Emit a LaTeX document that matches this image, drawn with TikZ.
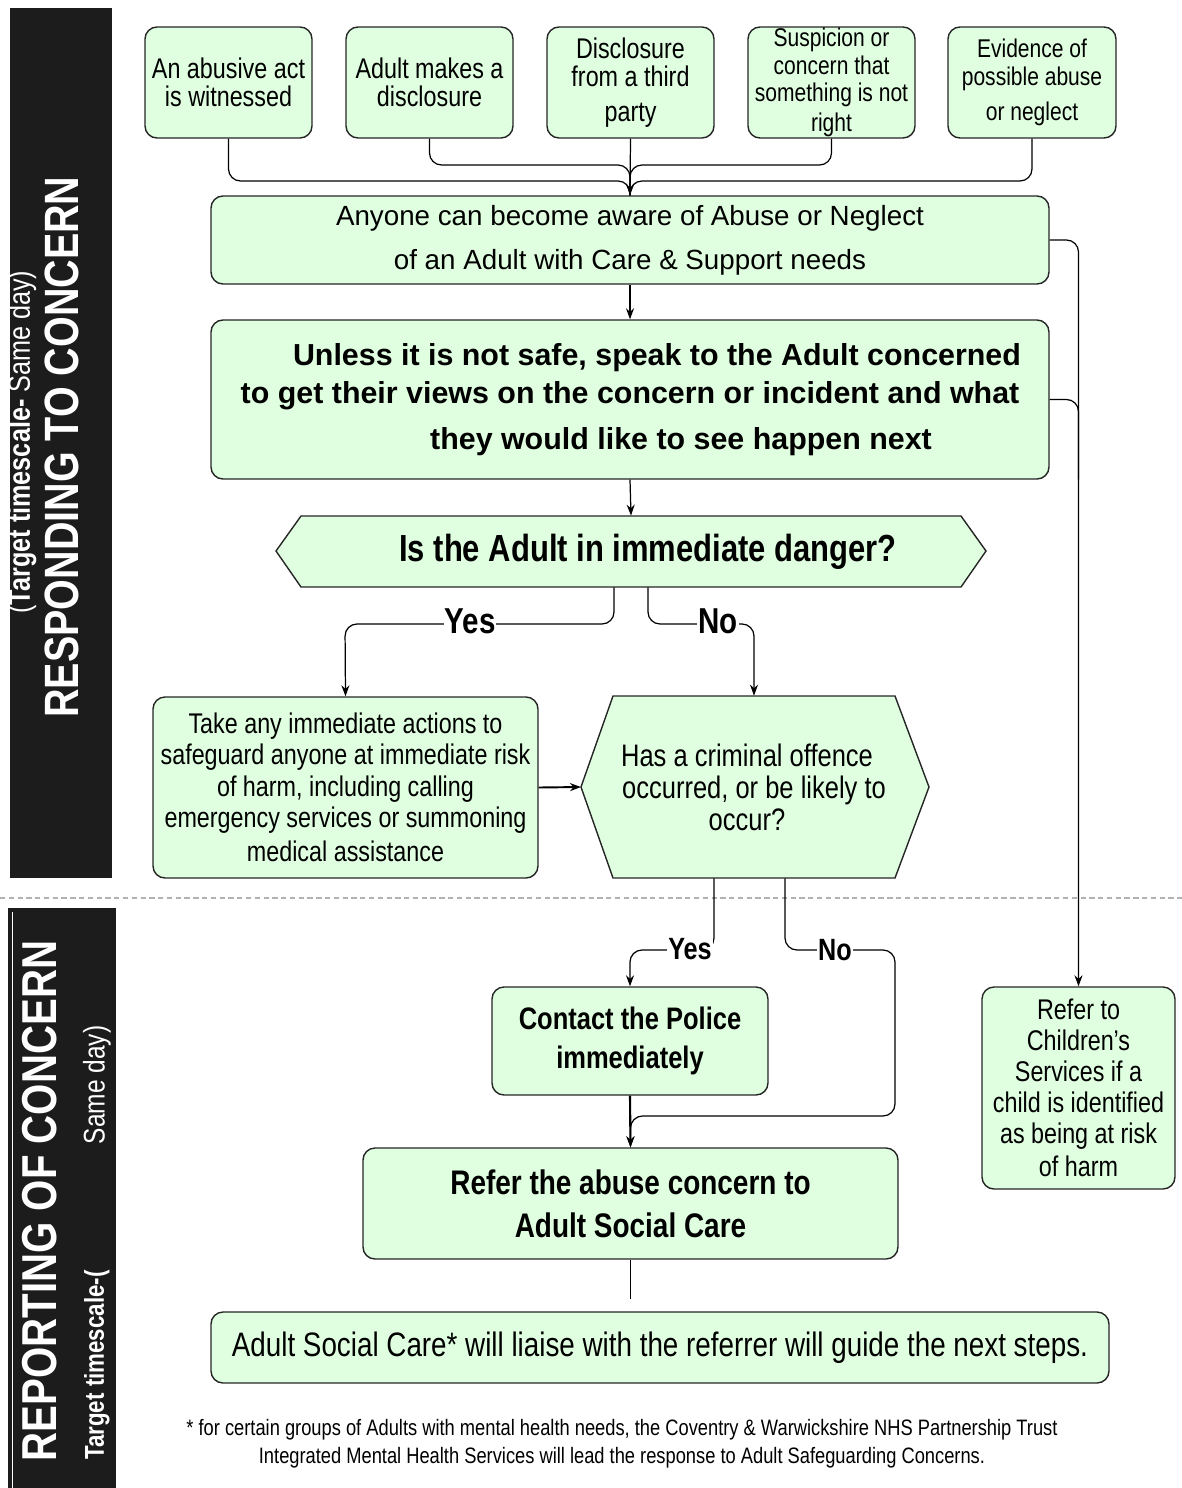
\documentclass[tikz,border=0pt]{standalone}
\usepackage{fontspec}
\setmainfont{Liberation Sans}
\newfontfamily\nrw{Liberation Sans}[FakeStretch=0.82]
\usetikzlibrary{arrows.meta}
\definecolor{boxgreen}{RGB}{224,255,224}
\definecolor{bardark}{RGB}{28,28,28}

\begin{document}
\begin{tikzpicture}[x=0.02cm,y=-0.02cm,
  dims/.style 2 args={minimum width=#1*0.02cm,minimum height=#2*0.02cm},
  green_box/.style={draw=black!85,line width=0.8pt,rounded corners=0.24cm,fill=boxgreen,align=center,inner sep=0pt},
  src_box/.style={green_box,dims={167}{111},font=\nrw\fontsize{16.2}{15.8}\selectfont},
  src_small/.style={src_box,font=\nrw\fontsize{14.6}{15.6}\selectfont},
  hex_shape/.style={draw=black!85,line width=0.8pt,fill=boxgreen},
  flow_line/.style={line width=0.7pt,rounded corners=0.24cm},
  flow_arrow/.style={flow_line,-{Stealth[length=2.2mm,width=1.6mm]}},
  yn_label/.style={fill=white,inner sep=0.5pt,font=\nrw\bfseries\fontsize{20.5}{21}\selectfont},
  yn_small/.style={yn_label,font=\nrw\bfseries\fontsize{17.5}{18}\selectfont},
  side_text/.style={rotate=90,text=white}]

\useasboundingbox (0,0) rectangle (1182,1488);

% side bars
\fill[bardark] (10,8) rectangle (112,878);
\fill[bardark] (8,908) rectangle (116,1488);
\draw[white,line width=0.8pt] (12.5,912) -- (12.5,1488);
\node[side_text,font=\nrw\bfseries\fontsize{27.4}{28}\selectfont] (resp) at (62,447) {RESPONDING TO CONCERN};
\node[side_text,font=\nrw\fontsize{17.5}{18}\selectfont] (resp_time) at (22,442) {(\textbf{Target timescale-} Same day)};
\node[side_text,font=\nrw\bfseries\fontsize{27.9}{28}\selectfont] (rep) at (40,1201) {REPORTING OF CONCERN};
\node[side_text,font=\nrw\bfseries\fontsize{15.5}{16}\selectfont] (rep_time) at (97,1365) {Target timescale-(};
\node[side_text,font=\nrw\fontsize{17}{18}\selectfont] (rep_day) at (97,1085) {Same day)};
\draw[gray!60,dash pattern=on 3pt off 2pt,line width=0.6pt] (0,898) -- (1182,898);

% ways of becoming aware
\node[src_box] (src1) at (228.5,82.5) {An abusive act\\is witnessed};
\node[src_box] (src2) at (429.5,82.5) {Adult makes a\\disclosure};
\node[src_box] (src3) at (630.5,82.5) {Disclosure\\from a third\\[4pt]party};
\node[src_small] (src4) at (831.5,82.5) {Suspicion or\\concern that\\something is not\\[1.5pt]right};
\node[src_small,dims={168}{111}] (src5) at (1032,82.5) {Evidence of\\possible abuse\\[4.5pt]or neglect};

\node[green_box,dims={838}{88},font=\fontsize{15.8}{25}\selectfont] (aware) at (630,240) {Anyone can become aware of Abuse or Neglect\\of an Adult with Care \& Support needs};
\node[green_box,dims={838}{159},font=\bfseries\fontsize{17.3}{21.5}\selectfont] (safe) at (630,399.5) {\hspace*{1.08cm}Unless it is not safe, speak to the Adult concerned\\to get their views on the concern or incident and what\\[4.5pt]\hspace*{2.04cm}they would like to see happen next};

\draw[hex_shape] (276,551) -- (301,516) -- (961,516) -- (986,551) -- (961,587) -- (301,587) -- cycle;
\node[dims={660}{71},inner sep=0pt,font=\nrw\bfseries\fontsize{21.5}{22}\selectfont] (danger) at (631,551.5) {\hspace*{0.68cm}Is the Adult in immediate danger?};

\node[green_box,dims={385}{181},font=\nrw\fontsize{16.2}{17.9}\selectfont] (action) at (345.5,787.5) {Take any immediate actions to\\safeguard anyone at immediate risk\\of harm, including calling\\emergency services or summoning\\[1.5pt]medical assistance};

\draw[hex_shape] (581,787) -- (613,696) -- (895,696) -- (929,787) -- (895,878) -- (613,878) -- cycle;
\coordinate (crime_tip) at (581,787);
\node[dims={282}{182},inner sep=0pt,align=center,font=\nrw\fontsize{17.7}{18.2}\selectfont] (crime) at (754,787) {Has a criminal offence\hspace*{0.28cm}\\occurred, or be likely to\hspace*{0.28cm}\\occur?\hspace*{0.28cm}};

\node[green_box,dims={276}{108},font=\nrw\bfseries\fontsize{17.7}{22}\selectfont] (police) at (630,1041) {Contact the Police\\immediately};
\node[green_box,dims={535}{111},font=\nrw\bfseries\fontsize{19.4}{24.4}\selectfont] (refer) at (630.5,1203.5) {Refer the abuse concern to\\Adult Social Care};
\node[green_box,dims={898}{71},font=\nrw\fontsize{19.3}{20}\selectfont] (liaise) at (660,1347.5) {Adult Social Care* will liaise with the referrer will guide the next steps.};
\node[green_box,dims={193}{202},font=\nrw\fontsize{16.2}{17.6}\selectfont] (child) at (1078.5,1088) {Refer to\\Children’s\\Services if a\\child is identified\\as being at risk\\[1pt]of harm};

\node[align=center,font=\nrw\fontsize{12.7}{16}\selectfont] (note) at (622,1444) {* for certain groups of Adults with mental health needs, the Coventry \& Warwickshire NHS Partnership Trust\\Integrated Mental Health Services will lead the response to Adult Safeguarding Concerns.};

% connectors
\draw[flow_line] (src1.south) |- (630,181) -- (aware.north);
\draw[flow_line] (src2.south) |- (630,165) -- (aware.north);
\draw[flow_line] (src4.south) |- (630,165) -- (aware.north);
\draw[flow_line] (src5.south) |- (630,181) -- (aware.north);
\draw[flow_arrow] (src3.south) -- (aware.north);
\draw[flow_arrow] (aware.south) -- (safe.north);
\draw[flow_arrow] (safe.south) -- (danger.north);
\draw[flow_arrow] (aware.east) -| (child.north);
\draw[flow_line] (safe.east) -| (child.north |- safe.south);

\draw[flow_arrow] ([xshift=-0.34cm]danger.south) |- (345,624) -- (action.north);
\draw[flow_arrow] ([xshift=0.34cm]danger.south) |- (754,624) -- (crime.north);
\draw[flow_arrow,line width=1.1pt] (action.east) -- (crime_tip);
\draw[flow_arrow] ([xshift=-0.8cm]crime.south) |- (630,950) -- (police.north);
\draw[flow_arrow] ([xshift=0.62cm]crime.south) |- (895,950) -- (895,1116) -| (refer.north);
\draw[flow_arrow,line width=1.2pt] (police.south) -- (refer.north);
\draw[flow_line,shorten >=0.24cm] (refer.south) -- (refer.south |- liaise.north);

\node[yn_label] (yes1) at (470,621) {Yes};
\node[yn_label] (no1) at (718,621) {No};
\node[yn_small] (yes2) at (690,949) {Yes};
\node[yn_small] (no2) at (835,950) {No};
\end{tikzpicture}
\end{document}
